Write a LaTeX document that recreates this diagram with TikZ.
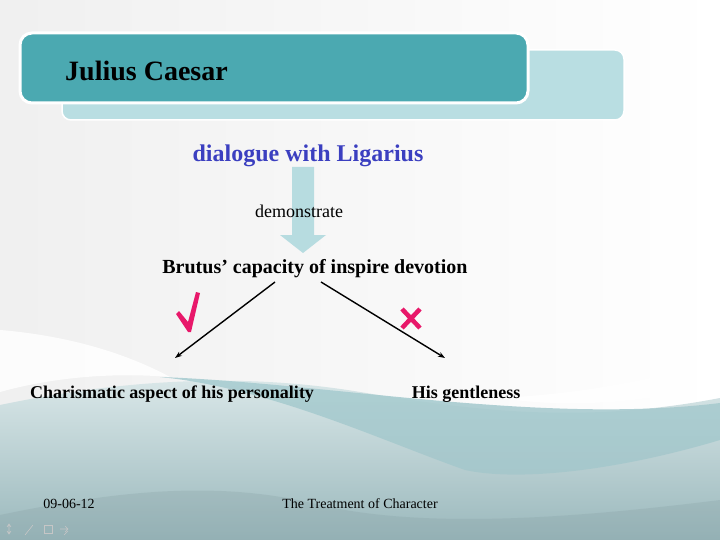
\documentclass[tikz,border=0pt]{standalone}
\usepackage{fontspec}
\setmainfont{Liberation Serif}
\usetikzlibrary{arrows.meta}
\definecolor{tealdark}{HTML}{4BA9B1}
\definecolor{teallight}{HTML}{B9DEE2}
\definecolor{arrowblue}{HTML}{B7DCE0}
\definecolor{txtblue}{HTML}{3B3FC0}
\definecolor{pinkmark}{HTML}{E8186A}
\definecolor{wavetop}{HTML}{DCE9EA}
\definecolor{wavebot}{HTML}{9AB8BC}
\definecolor{ribbon}{HTML}{A9CDD1}
\tikzset{
  boldtxt/.style={font=\fontsize{#1}{#1}\selectfont\bfseries, inner sep=0pt, anchor=base},
  plaintxt/.style={font=\fontsize{#1}{#1}\selectfont, inner sep=0pt, anchor=base},
  branch/.style={draw=black, line width=1.4pt, -{Stealth[length=7pt,width=5pt]}},
}
\begin{document}
\begin{tikzpicture}[x=1pt,y=-1pt]
\useasboundingbox (0,0) rectangle (720,540);
% background
\shade[left color=gray!12, right color=white] (0,0) rectangle (720,540);
% bottom waves
\shade[top color=wavetop, bottom color=wavebot]
  (0,405) .. controls (120,380) and (240,372) .. (360,392)
  .. controls (470,410) and (580,425) .. (720,398) -- (720,540) -- (0,540) -- cycle;
\fill[white, opacity=0.85]
  (0,330) .. controls (60,335) and (120,350) .. (170,377)
  .. controls (110,372) and (50,378) .. (0,392) -- cycle;
\fill[white, opacity=0.9]
  (500,398) .. controls (580,410) and (660,400) .. (720,382) -- (720,360)
  .. controls (640,385) and (560,395) .. (500,398) -- cycle;
\shade[top color=ribbon, bottom color=ribbon!70!wavebot, opacity=0.9]
  (160,377) .. controls (330,383) and (540,425) .. (720,403)
  -- (720,440) .. controls (620,470) and (520,482) .. (465,470)
  .. controls (380,440) and (270,388) .. (160,377) -- cycle;
\fill[wavebot!85!black, opacity=0.25]
  (0,515) .. controls (120,490) and (220,480) .. (320,505)
  .. controls (420,528) and (560,520) .. (720,500) -- (720,540) -- (0,540) -- cycle;
% title boxes
\fill[teallight, draw=white, line width=1.5pt, rounded corners=9pt] (62,50) rectangle (624,120);
\fill[tealdark, draw=white, line width=3pt, rounded corners=12pt] (20,33) rectangle (528,103);
\node[boldtxt=28, anchor=base west] (title) at (65,81) {Julius Caesar};
% big arrow
\node[boldtxt=24, text=txtblue] (dialog) at (308,162) {dialogue with Ligarius};
\fill[arrowblue] (292,167) -- (314,167) -- (314,235) -- (326,235) -- (303,253) -- (280,235) -- (292,235) -- cycle;
\node[plaintxt=18] (demo) at (299,218) {demonstrate};
\node[boldtxt=20] (brutus) at (315,273) {Brutus’ capacity of inspire devotion};
% branches
\coordinate (l1) at (275,282);
\coordinate (l2) at (175,358);
\coordinate (r1) at (321,282);
\coordinate (r2) at (445,358);
\draw[branch] (l1) -- (l2);
\draw[branch] (r1) -- (r2);
% check and cross
\fill[pinkmark] (176,314) -- (179,311) -- (188,322) -- (196,292) -- (200,293) -- (191,332) -- (188,332) -- cycle;
\draw[pinkmark, line width=4.5pt] (402,309) -- (420,328) (420,309) -- (402,328);
\node[boldtxt=18] (charis) at (172,398) {Charismatic aspect of his personality};
\node[boldtxt=18] (gentle) at (466,398) {His gentleness};
% footer
\node[plaintxt=14] (date) at (69,508) {09-06-12};
\node[plaintxt=14] (footer) at (360,508) {The Treatment of Character};
% nav icons
\begin{scope}[draw=gray!45, line width=0.6pt]
\draw (9,524) -- (9,534) (7,527) -- (9,524) -- (11,527) (7,531) -- (9,534) -- (11,531);
\draw (25,535) -- (33,525);
\draw (44,525) rectangle (52,533);
\draw (60,529) -- (68,529) (65,526) -- (68,529) -- (65,532) (64,535) -- (68,531);
\end{scope}
\end{tikzpicture}
\end{document}
